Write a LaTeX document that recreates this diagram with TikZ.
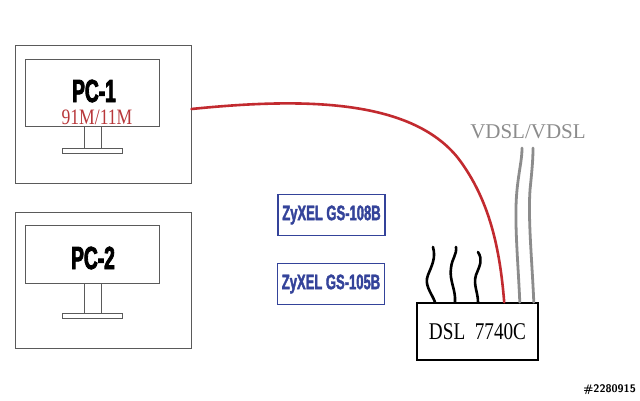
\documentclass[tikz,border=0pt]{standalone}
\usetikzlibrary{calc}
\usepackage{fontspec}
\setmainfont{Liberation Serif}
\newfontfamily\impactish[FakeStretch=0.6,FakeBold=2.5]{Liberation Sans Bold}
\newfontfamily\switchfont[FakeStretch=0.62,FakeBold=1.8]{Liberation Sans Bold}
\newfontfamily\narrowserif[FakeStretch=0.8]{Liberation Serif}
\definecolor{redwire}{HTML}{C22A2F}
\definecolor{graywire}{HTML}{8C8C8C}
\definecolor{boxgray}{HTML}{5A5A5A}
\definecolor{swblue}{HTML}{34439A}
\definecolor{speedred}{HTML}{B8373A}
\begin{document}
\begin{tikzpicture}[x=1pt,y=-1pt,
  frame/.style={draw=boxgray,line width=0.9pt},
  swbox/.style={draw=swblue,line width=1.3pt,minimum width=107pt,minimum height=41pt,inner sep=0pt},
  pclabel/.style={font=\impactish\fontsize{32}{32}\selectfont,text=black,inner sep=0pt},
  swlabel/.style={font=\switchfont\fontsize{21}{21}\selectfont,text=swblue},
  blackwire/.style={draw=black,line width=2.6pt,line cap=round},
  graycable/.style={draw=graywire,line width=2.8pt,line cap=round},
  redcable/.style={draw=redwire,line width=2.6pt,line cap=round}]
\useasboundingbox (0,0) rectangle (640,400);
\fill[white] (0,0) rectangle (640,400);
% PC-1
\node[frame,minimum width=176pt,minimum height=138pt,inner sep=0pt] (pc1) at (103,114) {};
\draw[frame] (25,59) rectangle (159,126);
\draw[frame] (84,126) rectangle (101,148);
\draw[frame] (62,148) rectangle (122,153);
\node[pclabel] (pc1t) at (94,91) {PC-1};
\node[font=\narrowserif\fontsize{22}{22}\selectfont,text=speedred,inner sep=0pt] (pc1s) at (97,117) {91M/11M};
% PC-2
\node[frame,minimum width=176pt,minimum height=136pt,inner sep=0pt] (pc2) at (103,280) {};
\draw[frame] (25,225) rectangle (159,283);
\draw[frame] (84,283) rectangle (101,313);
\draw[frame] (62,313) rectangle (122,318);
\node[pclabel] (pc2t) at (93,258) {PC-2};
% switches
\node[swbox] (sw1) at (331.5,215) {};
\node[swlabel] (sw1t) at (sw1) {ZyXEL GS-108B};
\node[swbox] (sw2) at (331,284) {};
\node[swlabel] (sw2t) at (sw2) {ZyXEL GS-105B};
% DSL modem
\node[draw=black,line width=1.6pt,minimum width=121pt,minimum height=57pt,inner sep=0pt,
  font=\narrowserif\fontsize{24}{24}\selectfont] (dsl) at (477.5,331.5) {DSL\ \ 7740C};
% black wires
\coordinate (w1) at (435,302);
\coordinate (w2) at (455,302);
\coordinate (w3) at (478,302);
\draw[blackwire] (w1) .. controls (431,292) and (424,285) .. (428,275) .. controls (432,265) and (436,258) .. (433,247);
\draw[blackwire] (w2) .. controls (456,290) and (449,280) .. (451,268) .. controls (452,258) and (457,255) .. (456,247);
\draw[blackwire] (w3) .. controls (478,292) and (473,285) .. (476,275) .. controls (480,265) and (483,260) .. (478,252);
% gray VDSL cables
\coordinate (g1) at (522,148);
\coordinate (g2) at (533,148);
\draw[graycable] ($(dsl.north east)+(-19,0)$) .. controls (518,260) and (514,220) .. (517,190) .. controls (519,170) and (522,160) .. (g1);
\draw[graycable] ($(dsl.north east)+(-5,0)$) .. controls (532,260) and (528,220) .. (530,190) .. controls (532,170) and (533,160) .. (g2);
\node[font=\fontsize{21}{21}\selectfont,text=graywire] (vdsl) at (528,132) {VDSL/VDSL};
% red cable PC-1 to DSL
\draw[redcable] (pc1.east |- 0,109) .. controls (300,98) and (410,98) .. (458,158) .. controls (490,200) and (500,250) .. ($(dsl.north west)+(88,0)$);
% watermark
\node[font=\sffamily\bfseries\fontsize{11}{11}\selectfont,text=black,anchor=east,inner sep=0pt] (wm) at (636,390) {\#2280915};
\end{tikzpicture}
\end{document}
